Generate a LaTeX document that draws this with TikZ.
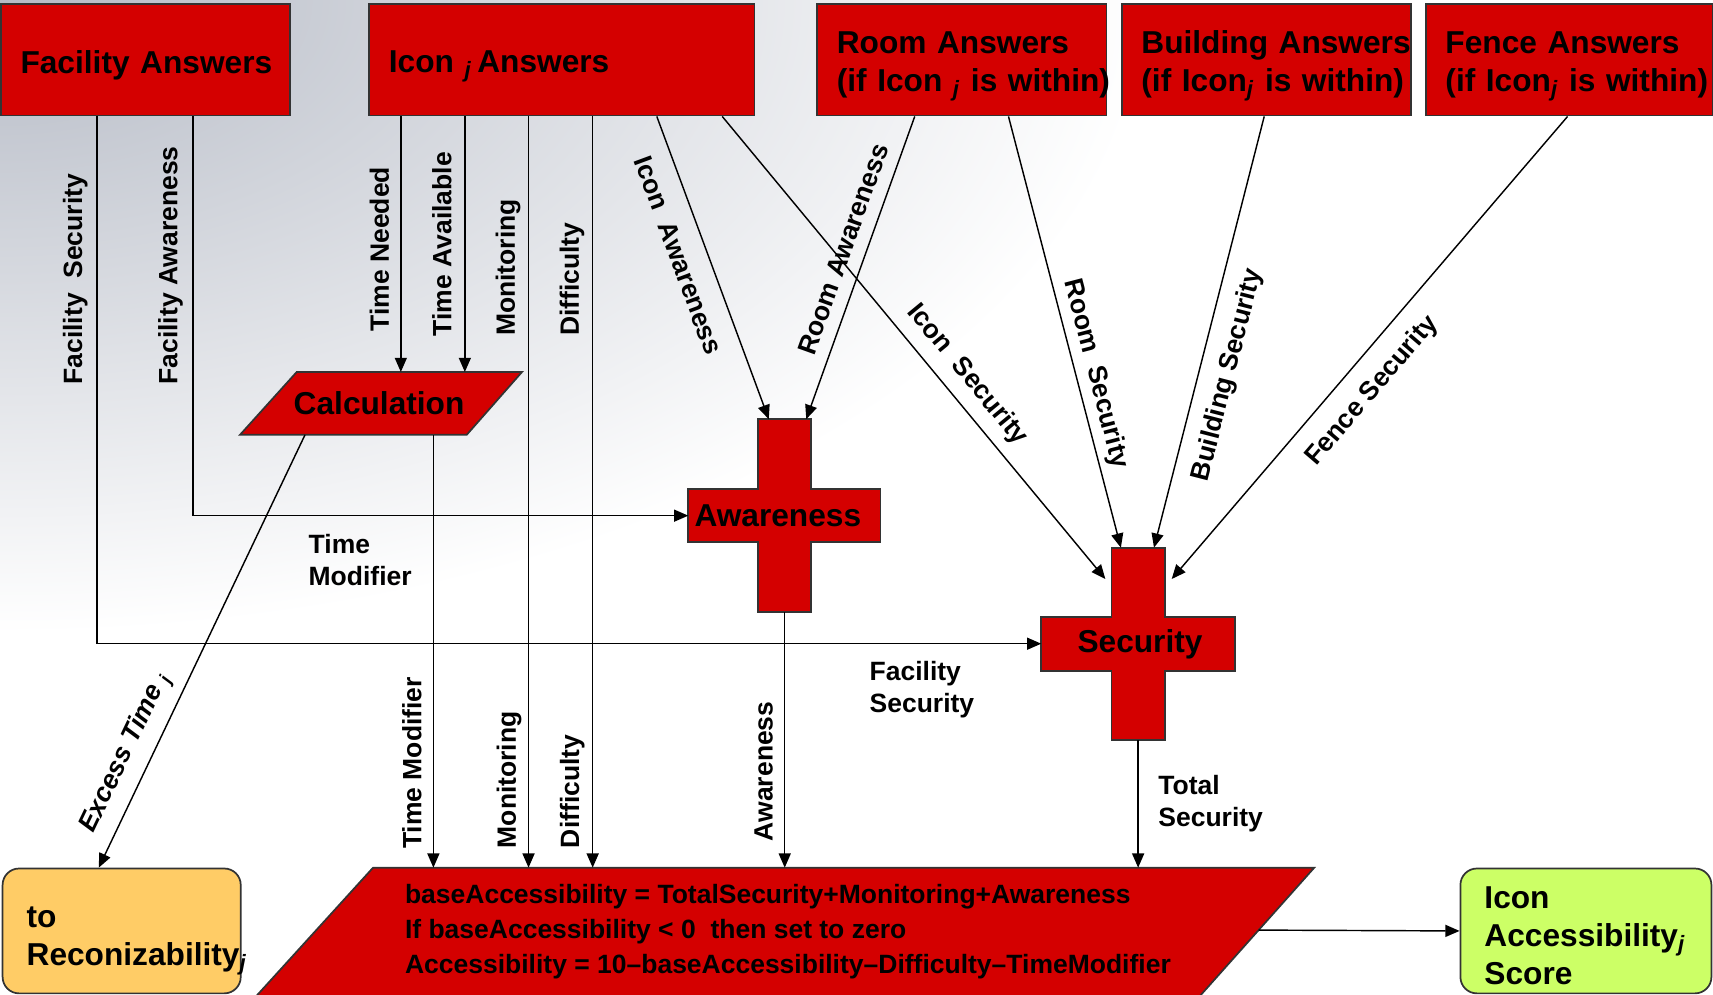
\documentclass[tikz,border=0pt]{standalone}
\usepackage{fontspec}
\setmainfont{Liberation Sans}
\usetikzlibrary{arrows.meta,calc}
\definecolor{boxred}{RGB}{212,0,0}
\definecolor{recofill}{RGB}{255,204,102}
\definecolor{scorefill}{RGB}{204,255,102}
\definecolor{bggray}{RGB}{182,187,198}
\newcommand\boxfont{\fontsize{16.5}{19.8}\selectfont\bfseries}
\newcommand\lblfont{\fontsize{13.8}{16.7}\selectfont\bfseries}
\newcommand\frmfont{\fontsize{13.8}{18.1}\selectfont\bfseries}
\newcommand\subj{\textsubscript{\textit{j}}}
\newcommand\ovl[1]{\leavevmode\rlap{#1}}
\newcommand\topstrut[1]{\leavevmode\rule{0pt}{#1}}
\begin{document}
\begin{tikzpicture}[x=0.02cm,y=-0.02cm,
 redbox/.style={draw=black!80, line width=0.9pt, fill=boxred, anchor=north west, inner xsep=0.36cm, inner ysep=0pt, minimum height=2.04cm, align=left, font=\boxfont},
 redshape/.style={draw=black!80, line width=0.9pt, fill=boxred},
 endbox/.style={draw=black!80, line width=0.9pt, rounded corners=0.3cm, anchor=north west, inner xsep=0.44cm, inner ysep=0pt, minimum height=2.286cm, align=left, font=\boxfont},
 conn/.style={line width=0.75pt},
 arr/.style={conn, -{Triangle[length=0.26cm,width=0.22cm]}},
 lbl/.style={font=\lblfont, inner sep=0pt},
 shapetext/.style={font=\boxfont, inner sep=0pt},
]
\useasboundingbox (0,0) rectangle (1568,910);
\begin{scope}
\clip (0,0) rectangle (1568,910);
\shade[inner color=bggray, outer color=white] (0,0) ellipse [x radius=1050, y radius=580];
\end{scope}

% top boxes
\node[redbox, text width=4.58cm] (fac) at (0,3) {\topstrut{18pt}\ovl{Facility Answers}};
\node[redbox, text width=6.336cm] (icon) at (337.2,3) {\topstrut{18pt}\ovl{Icon \subj\,Answers}};
\node[redbox, text width=4.58cm] (room) at (747.2,3) {\topstrut{18pt}\ovl{Room Answers}\\\ovl{(if Icon \subj\ is within)}};
\node[redbox, text width=4.57cm] (bldg) at (1026,3) {\topstrut{18pt}\ovl{Building Answers}\\\ovl{(if Icon\subj\ is within)}};
\node[redbox, text width=4.534cm] (fence) at (1304.3,3) {\topstrut{18pt}\ovl{Fence Answers}\\\ovl{(if Icon\subj\ is within)}};

% calculation
\path[redshape] (271.6,340.5) coordinate (calc-tl) -- (477.8,340.5) coordinate (calc-tr) -- (427.2,398) coordinate (calc-br) -- (219.7,398) coordinate (calc-bl) -- cycle;
\node[shapetext] (calc) at (347,369) {Calculation};

% awareness cross
\path[redshape] (694,383.7) -- (742.5,383.7) -- (742.5,447.6) -- (806,447.6) -- (806,496) -- (742.5,496) -- (742.5,560) -- (694,560) -- (694,496) -- (630,496) -- (630,447.6) -- (694,447.6) -- cycle;
\node[shapetext] (aw) at (712,472) {Awareness};
\coordinate (aw-w) at (630,472);
\coordinate (aw-n1) at (703.7,383.7);
\coordinate (aw-n2) at (738,383.7);
\coordinate (aw-s) at (718.3,560);

% security cross
\path[redshape] (1017.4,501.3) -- (1066.4,501.3) -- (1066.4,565) -- (1130.7,565) -- (1130.7,613.9) -- (1066.4,613.9) -- (1066.4,677.4) -- (1017.4,677.4) -- (1017.4,613.9) -- (953.1,613.9) -- (953.1,565) -- (1017.4,565) -- cycle;
\node[shapetext] (sec) at (1043.5,590) {Security};
\coordinate (sec-w) at (953.1,589.2);
\coordinate (sec-nw) at (1011.8,530);
\coordinate (sec-n1) at (1026,501.3);
\coordinate (sec-n2) at (1056.3,501.3);
\coordinate (sec-ne) at (1072.5,530);
\coordinate (sec-s) at (1041.8,677.4);

% formula parallelogram
\begin{scope}
\clip (0,0) rectangle (1568,910);
\path[redshape] (341.5,794.2) coordinate (frm-tl) -- (1203,794.2) coordinate (frm-tr) -- (1082,930) -- (218,930) -- cycle;
\end{scope}
\node[font=\frmfont, anchor=west, align=left, inner sep=0pt] (formula) at (370.4,852.7) {baseAccessibility = TotalSecurity+Monitoring+Awareness\\If baseAccessibility < 0\ \ then set to zero\\Accessibility = 10--baseAccessibility--Difficulty--TimeModifier};
\coordinate (frm-e) at (1152,851.35);

% end boxes
\node[endbox, fill=recofill, text width=3.48cm] (reco) at (1.6,794.2) {\topstrut{21pt}to\\\ovl{Reconizability\subj}};
\node[endbox, fill=scorefill, text width=3.716cm] (score) at (1336,794.2) {\topstrut{16.5pt}Icon\\\ovl{Accessibility\subj}\\Score};

% ports on top boxes
\coordinate (fs0) at ($(fac.south west)+(88.8,0)$);
\coordinate (fa0) at ($(fac.south west)+(176.6,0)$);
\coordinate (tn0) at ($(icon.south west)+(29.7,0)$);
\coordinate (ta0) at ($(icon.south west)+(88.3,0)$);
\coordinate (mo0) at ($(icon.south west)+(146.6,0)$);
\coordinate (di0) at ($(icon.south west)+(205.3,0)$);
\coordinate (ia0) at ($(icon.south west)+(264,0)$);
\coordinate (is0) at ($(icon.south west)+(323.9,0)$);
\coordinate (ra0) at ($(room.south west)+(90.1,0)$);
\coordinate (rs0) at ($(room.south west)+(175.9,0)$);
\coordinate (bs0) at ($(bldg.south west)+(131.2,0)$);
\coordinate (fe0) at ($(fence.south west)+(130.6,0)$);
\coordinate (et0) at ($(calc-bl)+(59.5,0)$);
\coordinate (tm0) at ($(calc-bl)+(177,0)$);
\coordinate (reco-in) at ($(reco.north west)+(88.8,0)$);

% connectors
\draw[arr] (fs0) |- (sec-w);
\draw[arr] (fa0) |- (aw-w);
\draw[arr] (tn0) -- (tn0 |- calc-tl);
\draw[arr] (ta0) -- (ta0 |- calc-tl);
\draw[arr] (mo0) -- (mo0 |- frm-tl);
\draw[arr] (di0) -- (di0 |- frm-tl);
\draw[arr] (ia0) -- (aw-n1);
\draw[arr] (is0) -- (sec-nw);
\draw[arr] (ra0) -- (aw-n2);
\draw[arr] (rs0) -- (sec-n1);
\draw[arr] (bs0) -- (sec-n2);
\draw[arr] (fe0) -- (sec-ne);
\draw[arr] (et0) -- (reco-in);
\draw[arr] (tm0) -- (tm0 |- frm-tl);
\draw[arr] (aw-s) -- (aw-s |- frm-tl);
\draw[arr] (sec-s) -- (sec-s |- frm-tl);
\draw[arr] (frm-e) -- (score.west);

% labels
\node[lbl, rotate=90] (l-fs) at (68.8,255.5) {Facility\ \ Security};
\node[lbl, rotate=90] (l-fa) at (156.2,243) {Facility Awareness};
\node[lbl, rotate=90] (l-tn) at (347.4,228) {Time Needed};
\node[lbl, rotate=90] (l-ta) at (404.6,223.5) {Time Available};
\node[lbl, rotate=90] (l-mo1) at (465,244.8) {Monitoring};
\node[lbl, rotate=90] (l-di1) at (523.6,255.5) {Difficulty};
\node[lbl, rotate=-69.75] (l-ia) at (621,234) {Icon\ \ Awareness};
\node[lbl, rotate=70.3] (l-ra) at (772,228) {Room Awareness};
\node[lbl, rotate=-50.5] (l-is) at (885.5,343.2) {Icon\ \ Security};
\node[lbl, rotate=-75.35] (l-rs) at (1002.8,342.5) {Room\ \ Security};
\node[lbl, rotate=75.6] (l-bs) at (1124,343.3) {Building Security};
\node[lbl, rotate=49.4] (l-fe) at (1256,357.8) {Fence Security};
\node[lbl, rotate=64.45, font=\lblfont\itshape] (l-et) at (115.6,689.5) {Excess Time \subj};
\node[lbl, rotate=90] (l-tm2) at (377,698.4) {Time Modifier};
\node[lbl, rotate=90] (l-mo2) at (466,713.7) {Monitoring};
\node[lbl, rotate=90] (l-di2) at (523.9,724.4) {Difficulty};
\node[lbl, rotate=90] (l-aw2) at (698.9,706) {Awareness};
\node[lbl, anchor=west, align=left] (l-tm) at (282.2,512.5) {Time\\Modifier};
\node[lbl, anchor=west, align=left] (l-fs2) at (795.7,631.5) {Facility\\Security};
\node[lbl, anchor=west, align=left] (l-ts) at (1060,735.2) {Total\\Security};
\end{tikzpicture}
\end{document}
